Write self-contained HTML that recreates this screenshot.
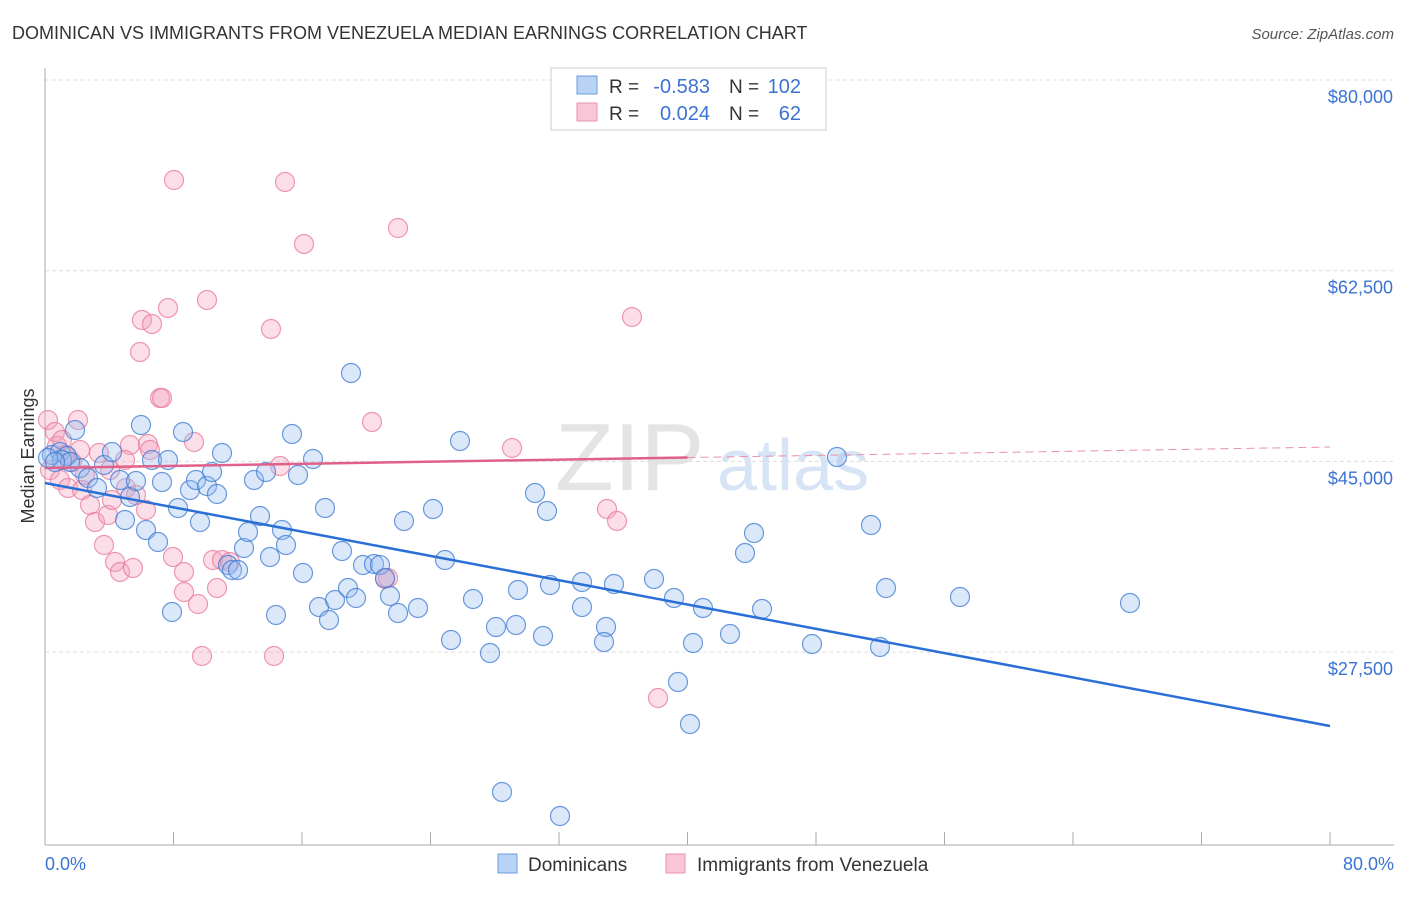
<!DOCTYPE html>
<html><head><meta charset="utf-8"><style>
body{margin:0;background:#fff;font-family:"Liberation Sans",sans-serif;}
svg text{font-family:"Liberation Sans",sans-serif;}
</style></head><body>
<svg id="c" width="1406" height="892"></svg>
<script>
const blueX=[52,60,67,75,80,88,97,104,112,120,125,130,136,141,146,152,158,162,168,172,178,183,190,196,200,207,212,217,222,228,232,238,244,248,254,260,266,270,276,282,286,292,298,303,313,319,325,329,335,342,348,351,356,363,374,380,385,390,398,404,418,433,445,451,460,473,490,496,502,516,518,535,543,547,550,560,582,582,606,604,614,654,674,678,690,693,703,730,745,754,762,812,837,871,880,886,960,1130,62,70,48,55];
const blueY=[455,452,456,430,468,478,488,465,452,480,520,497,481,425,530,460,542,482,460,612,508,432,490,480,522,486,472,494,453,565,570,570,548,532,480,516,472,557,615,530,545,434,475,573,459,607,508,620,600,551,588,373,598,565,564,565,578,596,613,521,608,509,560,640,441,599,653,627,792,625,590,493,636,511,585,816,582,607,627,642,584,579,598,682,724,643,608,634,553,533,609,644,457,525,647,588,597,603,460,462,458,462];
const pinkX=[48,55,57,62,50,60,68,72,80,82,90,95,99,104,108,112,115,120,126,130,133,136,140,142,146,148,152,160,162,168,173,174,184,184,194,198,202,207,213,217,222,230,271,274,280,285,304,372,385,388,398,512,607,617,632,658,78,110,125,85,150,65];
const pinkY=[420,432,446,440,470,480,488,462,450,490,505,522,453,545,515,500,562,572,488,445,568,495,352,320,510,444,324,398,398,308,557,180,572,592,442,604,656,300,560,588,560,562,329,656,466,182,244,422,579,578,228,448,509,521,317,698,420,470,460,475,450,455];
// convert pixel readings into data values (percent, dollars)
const bluePct=blueX.map(x=>(x-45)*80/1285), blueVal=blueY.map(y=>80000-(y-80)*17500/190.7);
const pinkPct=pinkX.map(x=>(x-45)*80/1285), pinkVal=pinkY.map(y=>80000-(y-80)*17500/190.7);
const blueTrend=[43016,20717];
const pinkTrend=[44393,46320];
const yTicks=[80000,62500,45000,27500];
const yTickLabels=["$80,000","$62,500","$45,000","$27,500"];
const NS="http://www.w3.org/2000/svg";
const svg=document.getElementById('c');
const xs=p=>45+p*1285/80, ys=v=>80+(80000-v)*190.7/17500;
function el(t,a,p){const e=document.createElementNS(NS,t);for(const k in a)e.setAttribute(k,a[k]);(p||svg).appendChild(e);return e;}
let t;
t=el('text',{x:12,y:39,'font-size':18,fill:'#333'});t.textContent="DOMINICAN VS IMMIGRANTS FROM VENEZUELA MEDIAN EARNINGS CORRELATION CHART";

t=el('text',{x:1394,y:39,'font-size':15,fill:'#555','font-style':'italic','text-anchor':'end'});t.textContent="Source: ZipAtlas.com";

// watermark
t=el('text',{x:555,y:490,'font-size':96,fill:'#e4e4e4','font-family':'Liberation Serif'});t.textContent="ZIP";

t=el('text',{x:717,y:490,'font-size':72,fill:'#d6e4f5'});t.textContent="atlas";

yTicks.forEach((v,i)=>{
 const g=el('line',{x1:45,x2:1394,y1:ys(v),y2:ys(v),stroke:'#ddd','stroke-dasharray':'4,3'});
 
 const l=el('text',{x:1393,y:ys(v)+23,'font-size':18,fill:'#3b73d4','text-anchor':'end'});l.textContent=yTickLabels[i];
 
});
let a=el('line',{x1:45,x2:45,y1:68,y2:845,stroke:'#aaa'});
a=el('line',{x1:45,x2:1394,y1:845,y2:845,stroke:'#aaa'});
for(let i=0;i<=10;i++){const k=el('line',{x1:xs(i*8),x2:xs(i*8),y1:832,y2:845,stroke:'#aaa'});}
t=el('text',{x:45,y:870,'font-size':18,fill:'#3b73d4'});t.textContent="0.0%";
t=el('text',{x:1394,y:870,'font-size':18,fill:'#3b73d4','text-anchor':'end'});t.textContent="80.0%";
t=el('text',{x:34,y:456,'font-size':18,fill:'#333','text-anchor':'middle',transform:'rotate(-90 34 456)'});t.textContent="Median Earnings";

pinkPct.forEach((p,i)=>{const c=el('circle',{cx:xs(p),cy:ys(pinkVal[i]),r:9.5,fill:'rgba(244,160,185,0.35)',stroke:'rgba(232,120,155,0.75)','stroke-width':1.2});
 });
bluePct.forEach((p,i)=>{const c=el('circle',{cx:xs(p),cy:ys(blueVal[i]),r:9.5,fill:'rgba(150,190,240,0.35)',stroke:'rgba(60,120,210,0.75)','stroke-width':1.2});
 });
const pm=v=>pinkTrend[0]+(pinkTrend[1]-pinkTrend[0])*v/80;
let ln=el('line',{x1:xs(0),y1:ys(blueTrend[0]),x2:xs(80),y2:ys(blueTrend[1]),stroke:'#2a6fd6','stroke-width':2.5});

ln=el('line',{x1:xs(0),y1:ys(pm(0)),x2:xs(40),y2:ys(pm(40)),stroke:'#e0608a','stroke-width':2.5});

ln=el('line',{x1:xs(40),y1:ys(pm(40)),x2:xs(80),y2:ys(pm(80)),stroke:'#e892ad','stroke-width':1,'stroke-dasharray':'8,5'});

// legend box
const lg=el('g',{});
el('rect',{x:551,y:68,width:275,height:62,fill:'#fff',stroke:'#ccc'},lg);
el('rect',{x:577,y:76,width:20,height:18,fill:'#b9d3f5',stroke:'#6c9be0'},lg);
el('rect',{x:577,y:103,width:20,height:18,fill:'#f8c6d5',stroke:'#e890ad'},lg);
const rows=[["-0.583","102",93],["0.024","62",120]];
rows.forEach(r=>{
 let x=el('text',{x:609,y:r[2],'font-size':19,fill:'#333'},lg);x.textContent="R =";
 x=el('text',{x:710,y:r[2],'font-size':20,fill:'#3b73d4','text-anchor':'end'},lg);x.textContent=r[0];
 x=el('text',{x:729,y:r[2],'font-size':19,fill:'#333'},lg);x.textContent="N =";
 x=el('text',{x:801,y:r[2],'font-size':20,fill:'#3b73d4','text-anchor':'end'},lg);x.textContent=r[1];
});
const bl=el('g',{});
el('rect',{x:498,y:854,width:19,height:19,fill:'#b9d3f5',stroke:'#6c9be0'},bl);
let x=el('text',{x:528,y:871,'font-size':19,fill:'#333'},bl);x.textContent="Dominicans";
el('rect',{x:666,y:854,width:19,height:19,fill:'#f8c6d5',stroke:'#e890ad'},bl);
x=el('text',{x:697,y:871,'font-size':19,fill:'#333'},bl);x.textContent="Immigrants from Venezuela";
</script>
</body></html>
